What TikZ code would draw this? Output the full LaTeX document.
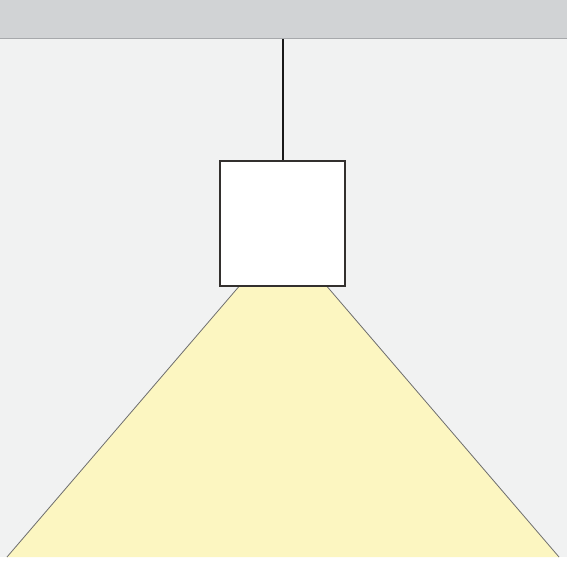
\documentclass[tikz,border=0pt]{standalone}
\usetikzlibrary{calc,positioning}
\definecolor{my_ceiling}{RGB}{209,211,213}
\definecolor{my_ceilline}{RGB}{167,169,172}
\definecolor{my_wall}{RGB}{241,242,242}
\definecolor{my_light}{RGB}{252,246,193}
\definecolor{my_dark}{RGB}{51,48,46}
\definecolor{my_edge}{RGB}{110,110,110}
\tikzset{
  lamp_n/.style = {draw=my_dark, line width=2.4pt, fill=white, inner sep=0pt,
  minimum size=124.5pt},
  cord_l/.style = {draw=black!90, line width=2pt},
  beam_l/.style = {draw=my_edge, line width=0.8pt, fill=my_light, line join=round}
}

\begin{document}
\begin{tikzpicture}[x=1pt, y=-1pt]
	\useasboundingbox (0,0) rectangle (567,567);
	\fill[white] (0,0) rectangle (567,567);
	% wall and ceiling
	\fill[my_wall] (0,38) rectangle (567,557);
	\fill[my_ceiling] (0,0) rectangle (567,38);
	\draw[my_ceilline, line width=1.5pt] (0,38.5) -- (567,38.5);
	% light cone
	\coordinate (beam-lt) at (238.5,287);
	\coordinate (beam-rt) at (327.5,287);
	\coordinate (beam-lb) at (7,557);
	\coordinate (beam-rb) at (559,557);
	\fill[my_light] (beam-lt) -- (beam-rt) -- (beam-rb) -- (beam-lb) -- cycle;
	\draw[beam_l, fill=none] (beam-lb) -- (beam-lt);
	\draw[beam_l, fill=none] (beam-rb) -- (beam-rt);
	% lamp
	\coordinate (hook) at (282.5,39);
	\node [lamp_n] (lamp) at (282.5,223.5) {};
	\draw[cord_l] (hook) -- (lamp.north);
\end{tikzpicture}
\end{document}
